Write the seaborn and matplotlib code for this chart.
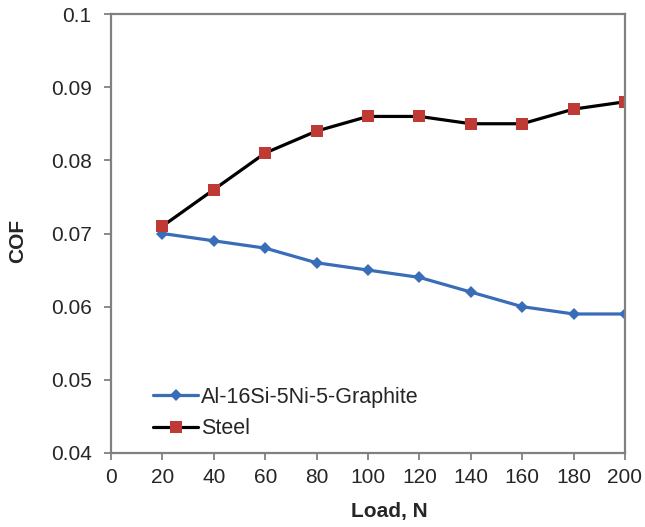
import matplotlib
matplotlib.use("Agg")
import matplotlib.pyplot as plt
import seaborn as sns
import pandas as pd

load = [20, 40, 60, 80, 100, 120, 140, 160, 180, 200]
al_cof = [0.070, 0.069, 0.068, 0.066, 0.065, 0.064, 0.062, 0.060, 0.059, 0.059]
steel_cof = [0.071, 0.076, 0.081, 0.084, 0.086, 0.086, 0.085, 0.085, 0.087, 0.088]
series_names = ["Al-16Si-5Ni-5-Graphite", "Steel"]
x_ticks = [0, 20, 40, 60, 80, 100, 120, 140, 160, 180, 200]
y_ticks = [0.04, 0.05, 0.06, 0.07, 0.08, 0.09, 0.1]
y_tick_labels = ["0.04", "0.05", "0.06", "0.07", "0.08", "0.09", "0.1"]

sns.set_style("white")
plt.rcParams['font.family'] = ['Liberation Sans', 'DejaVu Sans']

fig = plt.figure(figsize=(6.45, 5.27), dpi=100)
ax = fig.add_axes([111/645, 74/527, 514/645, 439/527])

df_al = pd.DataFrame({"Load": load, "COF": al_cof})
df_st = pd.DataFrame({"Load": load, "COF": steel_cof})

sns.lineplot(data=df_al, x="Load", y="COF", ax=ax, color="#3A6DB8", lw=2.3,
             marker="D", markersize=6.5, markeredgewidth=0, label=series_names[0])
sns.lineplot(data=df_st, x="Load", y="COF", ax=ax, color="black", lw=2.3,
             marker="s", markersize=8, markerfacecolor="#BF3A35",
             markeredgewidth=0, label=series_names[1])

ax.set_xlim(0, 200)
ax.set_ylim(0.04, 0.1)
ax.set_xticks(x_ticks)
ax.set_xticklabels([str(t) for t in x_ticks])
ax.set_yticks(y_ticks)
ax.set_yticklabels(y_tick_labels)
ax.tick_params(axis="both", direction="out", length=5, width=1.3, color="#808080",
               labelsize=15, bottom=True, left=True)
ax.tick_params(axis="y", pad=9)
ax.tick_params(axis="x", pad=6)
for s in ax.spines.values():
    s.set_color("#808080")
    s.set_linewidth(1.6)

ax.set_xlabel("Load, N", fontsize=15, fontweight="bold")
ax.set_ylabel("COF", fontsize=15, fontweight="bold")
ax.xaxis.set_label_coords(0.541, -0.112)
ax.yaxis.set_label_coords(-0.163, 0.483)

leg = ax.legend(loc="center left", frameon=False, fontsize=15.5,
                bbox_to_anchor=((153 - 111) / 514, (453 - 413) / 439), handlelength=2.1,
                handletextpad=0.15, labelspacing=0.49, borderpad=0, borderaxespad=0)

fig.savefig("out.png", dpi=100)
